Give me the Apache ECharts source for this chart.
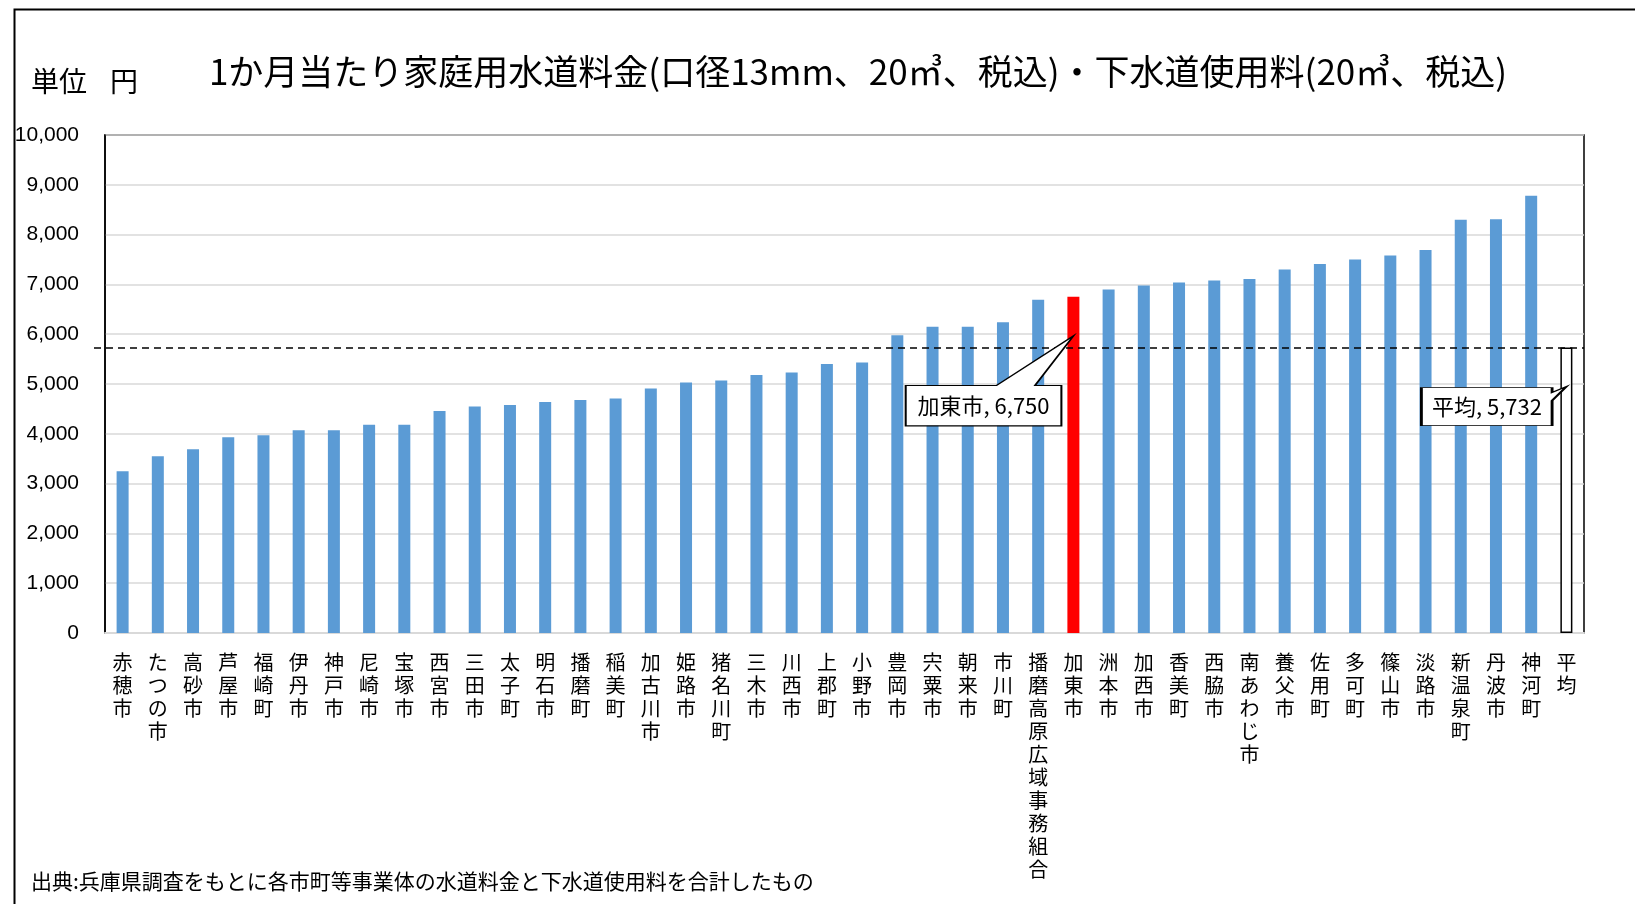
<!DOCTYPE html>
<html lang="ja">
<head>
<meta charset="utf-8">
<title>1か月当たり家庭用水道料金・下水道使用料</title>
<script src="https://cdn.jsdelivr.net/npm/echarts@6/dist/echarts.min.js"></script>
<style>
  html, body { margin: 0; padding: 0; background: #fff; }
  #chart { width: 1635px; height: 904px; }
</style>
</head>
<body>
<div id="chart"></div>
<script>
// 市町等ごとの 1か月当たり水道料金＋下水道使用料（円）
const categories = [
  '赤穂市', 'たつの市', '高砂市', '芦屋市', '福崎町', '伊丹市', '神戸市', '尼崎市',
  '宝塚市', '西宮市', '三田市', '太子町', '明石市', '播磨町', '稲美町', '加古川市',
  '姫路市', '猪名川町', '三木市', '川西市', '上郡町', '小野市', '豊岡市', '宍粟市',
  '朝来市', '市川町', '播磨高原広域事務組合', '加東市', '洲本市', '加西市', '香美町',
  '西脇市', '南あわじ市', '養父市', '佐用町', '多可町', '篠山市', '淡路市', '新温泉町',
  '丹波市', '神河町'
];
const values = [
  3250, 3550, 3690, 3930, 3970, 4070, 4070, 4180,
  4180, 4460, 4550, 4580, 4640, 4680, 4710, 4910,
  5030, 5070, 5180, 5230, 5400, 5430, 5980, 6150,
  6150, 6240, 6690, 6750, 6900, 6980, 7040,
  7080, 7110, 7300, 7410, 7500, 7580, 7690, 8300,
  8310, 8780
];
const averageName = '平均';
const averageValue = 5732;
const highlightName = '加東市';

const yTicks = { min: 0, max: 10000, interval: 1000 };

const titleText = '1か月当たり家庭用水道料金(口径13mm、20㎥、税込)・下水道使用料(20㎥、税込)';
const unitLabel = '単位';
const unitName = '円';
const sourceText = '出典:兵庫県調査をもとに各市町等事業体の水道料金と下水道使用料を合計したもの';

// ---- layout / style ----
const FONT = '"Noto Sans CJK JP", "Noto Sans", sans-serif';
const GRID = { left: 105, right: 51, top: 135, bottom: 271 };
const CHART_W = 1635;
const BLUE = '#5b9bd5';
const RED = '#ff0000';

const allNames = categories.concat([averageName]);
const barData = values.map((v, i) => {
  const item = { value: v };
  if (categories[i] === highlightName) item.itemStyle = { color: RED };
  return item;
}).concat([{
  value: averageValue,
  itemStyle: { color: '#ffffff', borderColor: '#000000', borderWidth: 1.5 }
}]);

const fmt = n => Number(n).toLocaleString('en-US');

// callout balloon shapes (box with a pointer wedge whose tip sits at the bar)
const calloutRight = 'path://M0 49.7 L90.7 49.7 L167.7 0 L129.3 49.7 L155.7 49.7 L155.7 90 L0 90 Z';
const calloutSide = 'path://M0 1 L130.7 1 L130.7 6 L145 0 L130.7 14 L130.7 39 L0 39 Z';

const highlightValue = values[categories.indexOf(highlightName)];

const textBase = { fontFamily: FONT, fontWeight: 'normal', color: '#000' };

const chart = echarts.init(document.getElementById('chart'), null, { renderer: 'canvas' });
chart.setOption({
  backgroundColor: '#ffffff',
  animation: false,
  graphic: [{
    type: 'rect',
    left: 12, top: 7,
    shape: { width: 1700, height: 1000 },
    style: { fill: 'none', stroke: '#000', lineWidth: 2 },
    silent: true
  }],
  title: [
    {
      text: titleText, left: 858, top: 52, textAlign: 'center', padding: 0,
      textStyle: Object.assign({ fontSize: 35, lineHeight: 40 }, textBase)
    },
    {
      text: unitLabel, left: 31, top: 66, padding: 0,
      textStyle: Object.assign({ fontSize: 28, lineHeight: 30 }, textBase)
    },
    {
      text: unitName, left: 110, top: 66, padding: 0,
      textStyle: Object.assign({ fontSize: 28, lineHeight: 30 }, textBase)
    },
    {
      text: sourceText, left: 31, top: 869, padding: 0,
      textStyle: Object.assign({ fontSize: 21, lineHeight: 24 }, textBase)
    }
  ],
  grid: Object.assign({ show: true, borderColor: '#000', borderWidth: 1.5, containLabel: false }, GRID),
  xAxis: {
    type: 'category',
    data: allNames,
    axisLine: { show: true, lineStyle: { color: '#d9d9d9', width: 2 } },
    axisTick: { show: false },
    axisLabel: {
      interval: 0,
      margin: 18,
      fontFamily: FONT,
      fontSize: 20,
      lineHeight: 23,
      color: '#000',
      verticalAlign: 'top',
      formatter: name => name.split('').join('\n')
    }
  },
  yAxis: {
    type: 'value',
    min: yTicks.min, max: yTicks.max, interval: yTicks.interval,
    axisLine: { show: true, lineStyle: { color: '#000', width: 1.5 } },
    axisTick: { show: false },
    splitLine: { lineStyle: { color: '#d9d9d9', width: 1.5 } },
    axisLabel: {
      margin: 26,
      fontFamily: '"Liberation Sans", Arial, sans-serif',
      fontSize: 21,
      color: '#000',
      formatter: v => fmt(v)
    }
  },
  series: [{
    type: 'bar',
    data: barData,
    barWidth: 12,
    itemStyle: { color: BLUE },
    markLine: {
      silent: true,
      symbol: ['none', 'none'],
      label: { show: false },
      lineStyle: { color: '#000', type: [7, 5], width: 1.5 },
      data: [[
        { x: GRID.left - 11, yAxis: averageValue },
        { x: CHART_W - GRID.right, yAxis: averageValue }
      ]]
    },
    markPoint: {
      silent: true,
      itemStyle: { color: '#ffffff', borderColor: '#000', borderWidth: 1.5 },
      label: {
        show: true,
        position: 'inside',
        fontFamily: FONT,
        fontSize: 22,
        color: '#000'
      },
      data: [
        {
          coord: [highlightName, highlightValue],
          symbol: calloutRight,
          symbolSize: [167.7, 90],
          symbolKeepAspect: false,
          symbolOffset: [-83.85, 84],
          label: { offset: [-6, 25], formatter: highlightName + ', ' + fmt(highlightValue) }
        },
        {
          coord: [averageName, averageValue],
          symbol: calloutSide,
          symbolSize: [145, 39],
          symbolKeepAspect: false,
          symbolOffset: [-72.5, 58.5],
          label: { offset: [-7, 1], formatter: averageName + ', ' + fmt(averageValue) }
        }
      ]
    }
  }]
});
</script>
</body>
</html>
